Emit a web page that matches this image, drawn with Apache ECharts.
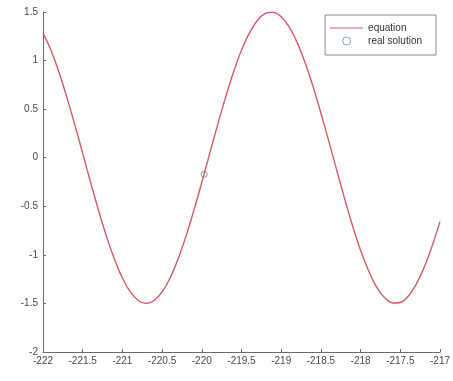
<!DOCTYPE html>
<html>
<head>
<meta charset="utf-8">
<script src="https://cdn.jsdelivr.net/npm/echarts@6/dist/echarts.min.js"></script>
<style>
html,body{margin:0;padding:0;background:#fff;}
#chart{width:453px;height:381px;}
</style>
</head>
<body>
<div id="chart"></div>
<script>
// Sampled curve of the equation over x in [-222, -217]
const xValues = [
  -222.0,-221.9,-221.8,-221.7,-221.6,-221.5,-221.4,-221.3,-221.2,-221.1,
  -221.0,-220.9,-220.8,-220.7,-220.6,-220.5,-220.4,-220.3,-220.2,-220.1,
  -220.0,-219.9,-219.8,-219.7,-219.6,-219.5,-219.4,-219.3,-219.2,-219.1,
  -219.0,-218.9,-218.8,-218.7,-218.6,-218.5,-218.4,-218.3,-218.2,-218.1,
  -218.0,-217.9,-217.8,-217.7,-217.6,-217.5,-217.4,-217.3,-217.2,-217.1,
  -217.0
];
const yValues = [
   1.285, 1.106, 0.883, 0.624, 0.341, 0.044,-0.255,-0.543,-0.810,-1.045,
  -1.238,-1.382,-1.470,-1.500,-1.470,-1.382,-1.238,-1.045,-0.810,-0.543,
  -0.255, 0.044, 0.341, 0.624, 0.883, 1.106, 1.285, 1.413, 1.485, 1.497,
   1.450, 1.346, 1.187, 0.980, 0.735, 0.461, 0.168,-0.131,-0.426,-0.703,
  -0.953,-1.163,-1.329,-1.440,-1.495,-1.490,-1.426,-1.304,-1.131,-0.912,
  -0.658
];
// Root found for the equation
const solutionX = [-219.97];
const solutionY = [-0.17];

const seriesNames = ['equation', 'real solution'];

const curve = xValues.map((x, i) => [x, yValues[i]]);
const roots = solutionX.map((x, i) => [x, solutionY[i]]);

const axisColor = '#6b6b6b';
const labelStyle = { color: '#4a4a4a', fontSize: 10, fontFamily: 'Liberation Sans, Arial, sans-serif' };

const chart = echarts.init(document.getElementById('chart'), null, { renderer: 'canvas' });
chart.setOption({
  backgroundColor: '#ffffff',
  animation: false,
  grid: { left: 43, top: 12, right: 13, bottom: 29, containLabel: false },
  xAxis: {
    type: 'value', min: -222, max: -217, interval: 0.5,
    axisLine: { onZero: false, lineStyle: { color: axisColor, width: 1 } },
    axisTick: { inside: true, length: 3, lineStyle: { color: axisColor } },
    axisLabel: Object.assign({ margin: 4 }, labelStyle),
    splitLine: { show: false }
  },
  yAxis: {
    type: 'value', min: -2, max: 1.5, interval: 0.5,
    axisLine: { show: true, onZero: false, lineStyle: { color: axisColor, width: 1 } },
    axisTick: { show: true, inside: true, length: 3, lineStyle: { color: axisColor } },
    axisLabel: Object.assign({ margin: 5 }, labelStyle),
    splitLine: { show: false }
  },
  legend: {
    orient: 'vertical',
    right: 17, top: 15,
    padding: [8, 14, 9, 5],
    itemGap: 3,
    itemWidth: 33, itemHeight: 8,
    borderColor: '#8a8a8a', borderWidth: 1,
    backgroundColor: '#ffffff',
    textStyle: { color: '#333', fontSize: 10, fontFamily: 'Liberation Sans, Arial, sans-serif' },
    data: [
      { name: seriesNames[0], icon: 'path://M0,4 L33,4 L33,5 L0,5 Z' },
      { name: seriesNames[1], icon: 'circle', itemStyle: { color: 'transparent', borderColor: '#6f86b0', borderWidth: 1 } }
    ]
  },
  series: [
    {
      name: seriesNames[0], type: 'line', data: curve, smooth: 0.3,
      showSymbol: false, symbol: 'none',
      lineStyle: { color: '#d45a66', width: 1.4, join: 'round' },
      itemStyle: { color: '#d45a66' }
    },
    {
      name: seriesNames[1], type: 'scatter', data: roots,
      symbol: 'circle', symbolSize: 6,
      itemStyle: { color: 'transparent', borderColor: '#7a7f8e', borderWidth: 1 }
    }
  ]
});
</script>
</body>
</html>
